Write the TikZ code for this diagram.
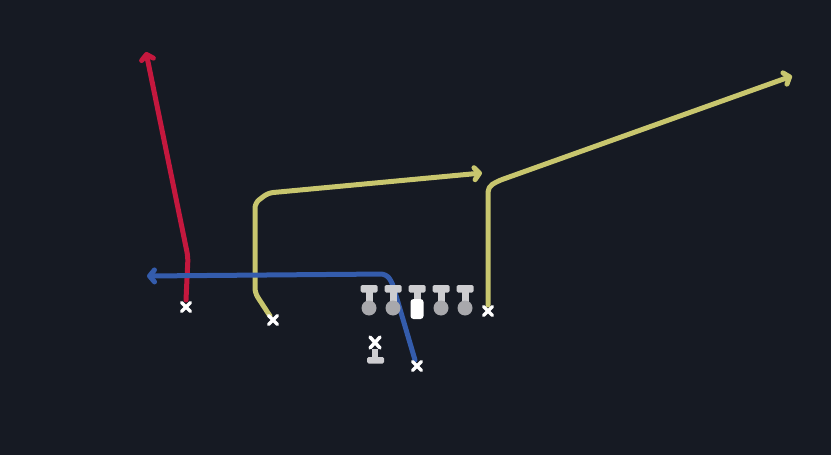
\documentclass[tikz,border=0pt]{standalone}
\usetikzlibrary{arrows.meta,calc}
\definecolor{bg}{RGB}{22,26,35}
\definecolor{routered}{RGB}{196,24,62}
\definecolor{routeyel}{RGB}{200,198,110}
\definecolor{routeblue}{RGB}{52,92,172}
\definecolor{plgray}{RGB}{168,168,172}
\definecolor{plbar}{RGB}{205,205,208}
\begin{document}
\begin{tikzpicture}[x=1pt,y=-1pt,
  route/.style={line width=5pt,line cap=round,line join=round,rounded corners=5pt},
  tip/.style={-{Straight Barb[round,length=5pt,width=12pt]}},
  xmark/.style={white,line width=3.5pt,line cap=round}]
\useasboundingbox (0,0) rectangle (831,455);
\fill[bg] (0,0) rectangle (831,455);
% positions
\coordinate (rx) at (186,307);
\coordinate (y1x) at (273,320);
\coordinate (y2x) at (488,311);
\coordinate (bx) at (417,366);
\coordinate (rend) at (146,52);
\coordinate (y1end) at (482,173);
\coordinate (y2end) at (792,76);
\coordinate (bend) at (147,276);
% routes
\draw[route,routered,tip] (186,300) -- (188,257) -- (rend);
\draw[route,routeyel,tip] (270,316) -- (255,293) -- (255,203) -- (268,193) -- (y1end);
\draw[route,routeyel,tip] (488,305) -- (488,187) -- (498,181) -- (y2end);
\draw[route,routeblue,tip] (415,360) -- (392,282) -- (386,274) -- (bend);
% X marks
\foreach \p in {rx,y1x,y2x,bx}{
  \draw[xmark] ($(\p)+(-4.5,-4.5)$) -- ($(\p)+(4.5,4.5)$);
  \draw[xmark] ($(\p)+(-4.5,4.5)$) -- ($(\p)+(4.5,-4.5)$);
}
% linemen
\foreach \x/\n in {369/l1,393/l2,441/l4,465/l5}{
  \fill[plbar,rounded corners=1.5pt] (\x-8.5,285) rectangle (\x+8.5,292.5);
  \fill[plbar] (\x-3.5,291) rectangle (\x+3.5,303);
  \fill[plgray] (\x,308) circle (7.5);
  \node[inner sep=0pt,minimum size=0pt] (\n) at (\x,308) {};
}
% center
\fill[plbar,rounded corners=1.5pt] (408.5,285) rectangle (425.5,292.5);
\fill[plbar] (413.5,291) rectangle (420.5,300);
\fill[white,rounded corners=3pt] (410.5,299) rectangle (423.5,319);
\node[inner sep=0pt] (c) at (417,309) {};
% QB
\draw[xmark] (370,337) -- (380,348);
\draw[xmark] (370,348) -- (380,337);
\fill[plbar] (372,349) rectangle (378,359);
\fill[plbar,rounded corners=1.5pt] (367,357) rectangle (384,363.5);
\node[inner sep=0pt] (qb) at (375,350) {};
\end{tikzpicture}
\end{document}
